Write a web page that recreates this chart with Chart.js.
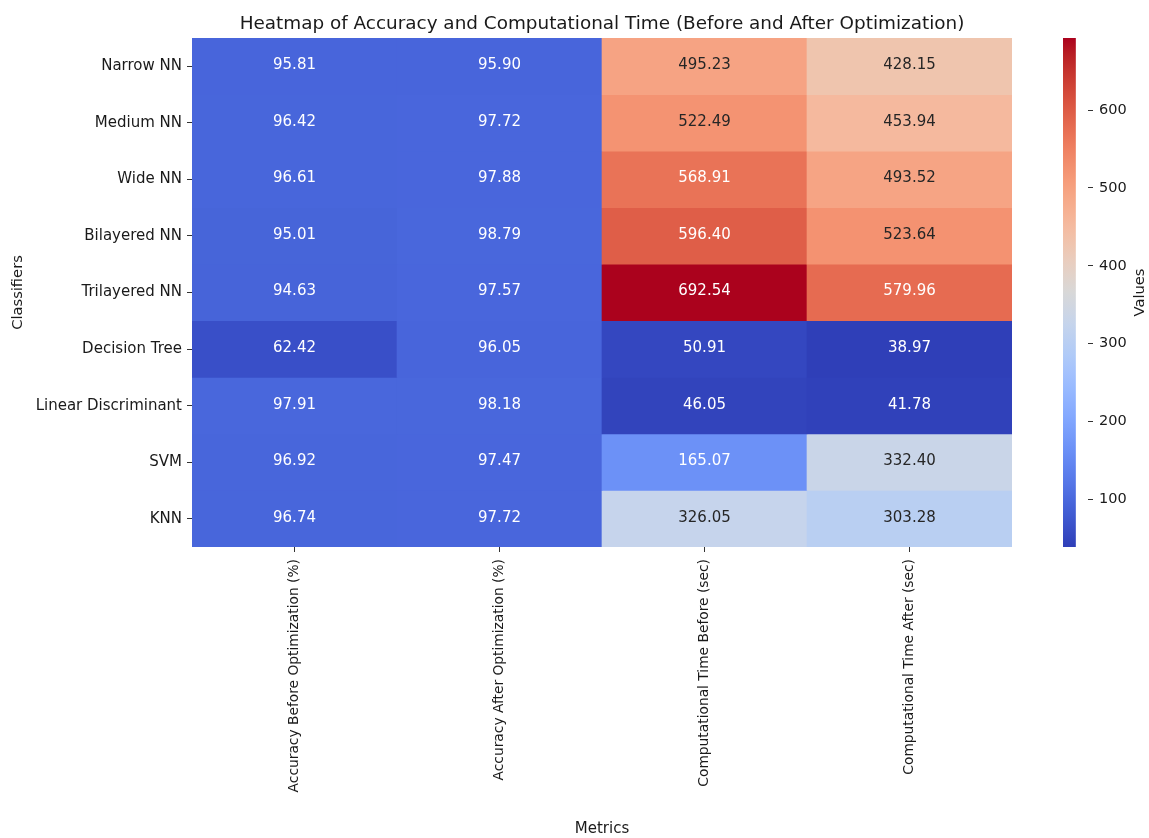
<!DOCTYPE html>
<html>
<head>
<meta charset="utf-8">
<title>Heatmap of Accuracy and Computational Time</title>
<script src="https://cdn.jsdelivr.net/npm/chart.js@4.4.1/dist/chart.umd.min.js"></script>
<style>
  html, body { margin: 0; padding: 0; background: #ffffff; }
  #wrap { position: relative; width: 1149px; height: 838px; overflow: hidden; }
  #main { position: absolute; left: 0; top: 0; }
  #cbar { position: absolute; left: 1040px; top: 0; }
</style>
</head>
<body>
<div id="wrap">
  <canvas id="main" width="1149" height="838"></canvas>
  <canvas id="cbar" width="109" height="838"></canvas>
</div>
<script>
// ---- data ----
const classifiers = [
  'Narrow NN', 'Medium NN', 'Wide NN', 'Bilayered NN', 'Trilayered NN',
  'Decision Tree', 'Linear Discriminant', 'SVM', 'KNN'
];
const metrics = [
  'Accuracy Before Optimization (%)',
  'Accuracy After Optimization (%)',
  'Computational Time Before (sec)',
  'Computational Time After (sec)'
];
const accuracyBefore = [95.81, 96.42, 96.61, 95.01, 94.63, 62.42, 97.91, 96.92, 96.74];
const accuracyAfter  = [95.90, 97.72, 97.88, 98.79, 97.57, 96.05, 98.18, 97.47, 97.72];
const timeBefore     = [495.23, 522.49, 568.91, 596.40, 692.54, 50.91, 46.05, 165.07, 326.05];
const timeAfter      = [428.15, 453.94, 493.52, 523.64, 579.96, 38.97, 41.78, 332.40, 303.28];
const colorbarTicks  = [100, 200, 300, 400, 500, 600];

const columns = [accuracyBefore, accuracyAfter, timeBefore, timeAfter];
const allValues = columns.flat();
const vmin = Math.min(...allValues);
const vmax = Math.max(...allValues);

// ---- coolwarm colour map (diverging, blue -> grey -> red) ----
const COOLWARM = [
  [59,76,192],[68,90,204],[77,104,215],[87,117,225],[98,130,234],[108,142,241],
  [119,154,247],[130,165,251],[141,176,254],[152,185,255],[163,194,255],[174,201,253],
  [184,208,249],[194,213,244],[204,217,238],[213,219,230],[221,221,221],[229,216,209],
  [236,211,197],[241,204,184],[245,196,172],[247,187,159],[247,177,147],[247,166,134],
  [244,154,123],[241,141,111],[236,127,99],[229,112,88],[222,96,77],[213,80,66],
  [203,62,56],[192,40,47],[180,4,38]
];
function coolwarm(t) {
  t = Math.max(0, Math.min(1, t));
  const pos = t * (COOLWARM.length - 1);
  const i = Math.min(Math.floor(pos), COOLWARM.length - 2);
  const f = pos - i;
  const a = COOLWARM[i], b = COOLWARM[i + 1];
  return [0, 1, 2].map(k => Math.round(a[k] + (b[k] - a[k]) * f));
}
const norm = v => (v - vmin) / (vmax - vmin);
// slightly deeper rendering of the map colours
const TONE = 1.15;
const rgb = c => {
  const d = c.map(x => Math.round(255 * Math.pow(x / 255, TONE)));
  return `rgb(${d[0]},${d[1]},${d[2]})`;
};
function luminance(c) {
  const lin = c.map(x => {
    x /= 255;
    return x <= 0.03928 ? x / 12.92 : Math.pow((x + 0.055) / 1.055, 2.4);
  });
  return 0.2126 * lin[0] + 0.7152 * lin[1] + 0.0722 * lin[2];
}

const FONT = 'DejaVu Sans';
const INK = '#1a1a1a';

// value labels in each cell
const cellLabels = {
  id: 'cellLabels',
  afterDatasetsDraw(chart) {
    const ctx = chart.ctx;
    ctx.save();
    ctx.font = `15px "${FONT}"`;
    ctx.textAlign = 'center';
    ctx.textBaseline = 'middle';
    chart.data.datasets.forEach((ds, r) => {
      chart.getDatasetMeta(r).data.forEach((el, c) => {
        const v = columns[c][r];
        const col = coolwarm(norm(v));
        ctx.fillStyle = luminance(col) > 0.408 ? 'rgb(38,38,38)' : '#ffffff';
        ctx.fillText(v.toFixed(2), el.x, (el.y + el.base) / 2 - 1);
      });
    });
    ctx.restore();
  }
};

// chart heading centred over the plot area
const heading = {
  id: 'heading',
  afterDraw(chart) {
    const ctx = chart.ctx;
    const a = chart.chartArea;
    ctx.save();
    ctx.font = `18.4px "${FONT}"`;
    ctx.fillStyle = INK;
    ctx.textAlign = 'center';
    ctx.textBaseline = 'alphabetic';
    ctx.fillText('Heatmap of Accuracy and Computational Time (Before and After Optimization)',
      (a.left + a.right) / 2, 29);
    ctx.restore();
  }
};

new Chart(document.getElementById('main'), {
  type: 'bar',
  data: {
    labels: metrics,
    datasets: classifiers.map((name, r) => ({
      label: name,
      data: metrics.map(() => [r, r + 1]),
      backgroundColor: ctx => rgb(coolwarm(norm(columns[ctx.dataIndex][r]))),
      borderWidth: 0,
      barPercentage: 1,
      categoryPercentage: 1,
      grouped: false
    }))
  },
  options: {
    responsive: false,
    animation: false,
    layout: { padding: { left: 0, top: 38, right: 137, bottom: 0 } },
    plugins: { legend: { display: false }, tooltip: { enabled: false }, title: { display: false } },
    scales: {
      x: {
        type: 'category',
        offset: true,
        afterFit: s => { s.height = 291; },
        border: { display: false },
        grid: { offset: false, drawOnChartArea: false, drawTicks: true, tickLength: 5, color: '#333', lineWidth: 1 },
        ticks: { autoSkip: false, maxRotation: 90, minRotation: 90, padding: 7, color: INK, font: { family: FONT, size: 13.8 } },
        title: { display: true, text: 'Metrics', color: INK, font: { family: FONT, size: 15 }, padding: { top: 0, bottom: 0 } }
      },
      y: {
        type: 'linear',
        min: 0,
        max: classifiers.length,
        reverse: true,
        afterFit: s => { s.width = 192; },
        afterBuildTicks: s => { s.ticks = classifiers.map((_, i) => ({ value: i + 0.5 })); },
        border: { display: false },
        grid: { drawOnChartArea: false, drawTicks: true, tickLength: 5, color: '#333', lineWidth: 1 },
        ticks: { autoSkip: false, padding: 5, color: INK, font: { family: FONT, size: 15 },
          callback: (v, i) => classifiers[i] },
        title: { display: true, text: 'Classifiers', color: INK, font: { family: FONT, size: 14.7 }, padding: { top: 9, bottom: 0 } }
      }
    }
  },
  plugins: [cellLabels, heading]
});

// ---- colour bar ----
const barLabel = {
  id: 'barLabel',
  afterDraw(chart) {
    const ctx = chart.ctx;
    const a = chart.chartArea;
    ctx.save();
    ctx.translate(100, (a.top + a.bottom) / 2);
    ctx.rotate(-Math.PI / 2);
    ctx.font = `14.7px "${FONT}"`;
    ctx.fillStyle = INK;
    ctx.textAlign = 'center';
    ctx.textBaseline = 'middle';
    ctx.fillText('Values', 0, 0);
    ctx.restore();
  }
};

new Chart(document.getElementById('cbar'), {
  type: 'bar',
  data: {
    labels: [''],
    datasets: [{
      data: [[vmin, vmax]],
      backgroundColor: ctx => {
        const chart = ctx.chart;
        if (!chart.chartArea) return null;
        const ys = chart.scales.y;
        const g = chart.ctx.createLinearGradient(0, ys.getPixelForValue(vmin), 0, ys.getPixelForValue(vmax));
        COOLWARM.forEach((c, i) => g.addColorStop(i / (COOLWARM.length - 1), rgb(c)));
        return g;
      },
      borderWidth: 0,
      barPercentage: 1,
      categoryPercentage: 1
    }]
  },
  options: {
    responsive: false,
    animation: false,
    layout: { padding: { left: 23, top: 38, right: 0, bottom: 291 } },
    plugins: { legend: { display: false }, tooltip: { enabled: false } },
    scales: {
      x: { display: false, offset: false },
      y: {
        type: 'linear',
        position: 'right',
        min: vmin,
        max: vmax,
        afterFit: s => { s.width = 61; },
        afterBuildTicks: s => { s.ticks = colorbarTicks.map(v => ({ value: v })); },
        border: { display: false },
        grid: { drawOnChartArea: false, drawTicks: true, tickLength: 5, color: '#333', lineWidth: 1 },
        ticks: { padding: 6, color: INK, font: { family: FONT, size: 14.5 } }
      }
    }
  },
  plugins: [barLabel]
});
</script>
</body>
</html>
